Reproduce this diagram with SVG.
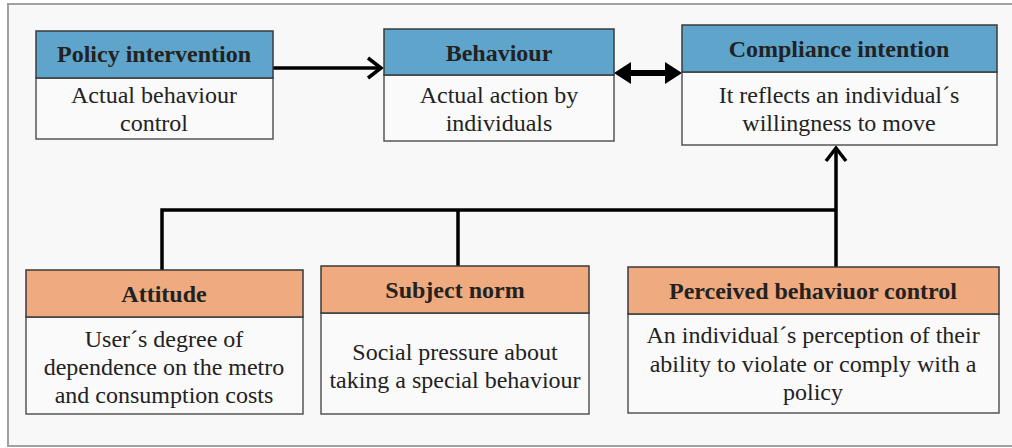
<svg xmlns="http://www.w3.org/2000/svg" width="1012" height="448" viewBox="0 0 1012 448">
<defs>
<style>
.frame{fill:#f8f8f8;stroke:#a0a0a0;stroke-width:2}
.hb{fill:#5fa5cb;stroke:#3a3a3a;stroke-width:1.5}
.ho{fill:#f0aa7f;stroke:#3a3a3a;stroke-width:1.5}
.body{fill:#fafafa;stroke:#555;stroke-width:1.5}
.c{fill:none;stroke:#000;stroke-width:3.5}
</style>
</defs>
<rect class="frame" x="8" y="4" width="1010" height="442"/>
<g id="connectors">
<line class="c" x1="273" y1="68" x2="381" y2="68"/>
<polyline class="c" points="368,58 381,68 368,78"/>
<line x1="626" y1="73" x2="670" y2="73" stroke="#000" stroke-width="6"/>
<path d="M614,73 L631,62 L631,84 z" fill="#000"/>
<path d="M682,73 L665,62 L665,84 z" fill="#000"/>
<polyline class="c" points="162,270 162,210 836,210"/>
<line class="c" x1="458" y1="210" x2="458" y2="266"/>
<line class="c" x1="836" y1="267" x2="836" y2="148"/>
<polyline class="c" points="826,161 836,148 846,161"/>
</g>
<g font-family="Liberation Serif, serif" font-size="24" fill="#222" text-anchor="middle">
<g id="policy">
<rect class="body" x="36" y="78" width="237" height="61"/>
<rect class="hb" x="36" y="31" width="237" height="47"/>
<text font-family="Liberation Serif, serif" font-weight="bold" x="154" y="62">Policy intervention</text>
<text font-family="Liberation Serif, serif" x="154" y="103">Actual behaviour</text>
<text font-family="Liberation Serif, serif" x="154" y="131">control</text>
</g>
<g id="behaviour">
<rect class="body" x="384" y="75" width="230" height="66"/>
<rect class="hb" x="384" y="29" width="230" height="46"/>
<text font-family="Liberation Serif, serif" font-weight="bold" x="499" y="61">Behaviour</text>
<text font-family="Liberation Serif, serif" x="499" y="103">Actual action by</text>
<text font-family="Liberation Serif, serif" x="499" y="131">individuals</text>
</g>
<g id="compliance">
<rect class="body" x="682" y="72" width="315" height="73"/>
<rect class="hb" x="682" y="25" width="315" height="47"/>
<text font-family="Liberation Serif, serif" font-weight="bold" x="839" y="57">Compliance intention</text>
<text font-family="Liberation Serif, serif" x="839" y="103">It reflects an individual´s</text>
<text font-family="Liberation Serif, serif" x="839" y="131">willingness to move</text>
</g>
<g id="attitude">
<rect class="body" x="26" y="317" width="277" height="97"/>
<rect class="ho" x="26" y="270" width="277" height="47"/>
<text font-family="Liberation Serif, serif" font-weight="bold" x="164" y="302">Attitude</text>
<text font-family="Liberation Serif, serif" x="164" y="347">User´s degree of</text>
<text font-family="Liberation Serif, serif" x="164" y="375">dependence on the metro</text>
<text font-family="Liberation Serif, serif" x="164" y="403">and consumption costs</text>
</g>
<g id="subject">
<rect class="body" x="321" y="313" width="268" height="101"/>
<rect class="ho" x="321" y="266" width="268" height="47"/>
<text font-family="Liberation Serif, serif" font-weight="bold" x="455" y="298">Subject norm</text>
<text font-family="Liberation Serif, serif" x="455" y="360">Social pressure about</text>
<text font-family="Liberation Serif, serif" x="455" y="388">taking a special behaviour</text>
</g>
<g id="perceived">
<rect class="body" x="628" y="314" width="371" height="99"/>
<rect class="ho" x="628" y="267" width="371" height="47"/>
<text font-family="Liberation Serif, serif" font-weight="bold" x="813" y="299">Perceived behaviuor control</text>
<text font-family="Liberation Serif, serif" x="813" y="343">An individual´s perception of their</text>
<text font-family="Liberation Serif, serif" x="813" y="372">ability to violate or comply with a</text>
<text font-family="Liberation Serif, serif" x="813" y="400">policy</text>
</g>
</g>
</svg>
